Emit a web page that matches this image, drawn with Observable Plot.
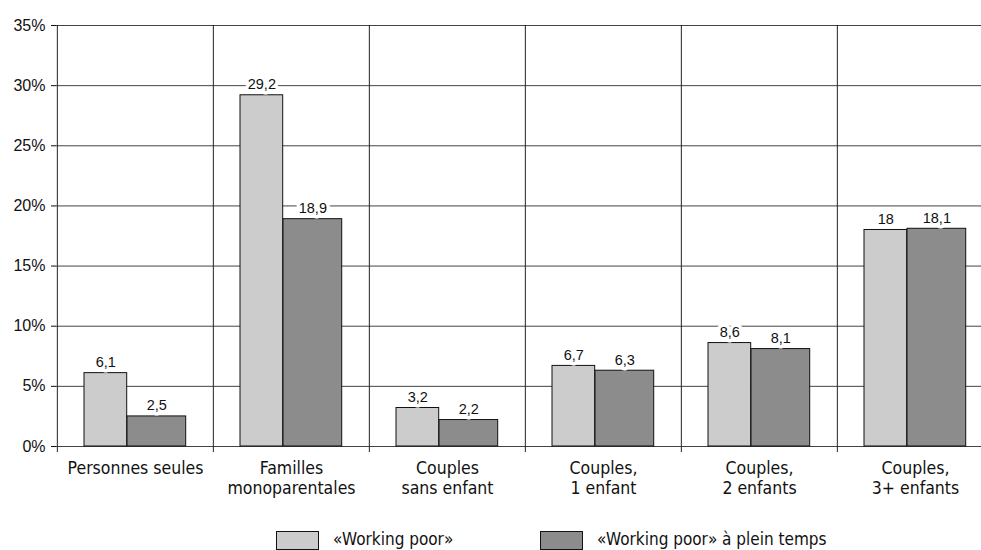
<!DOCTYPE html>
<html><head><meta charset="utf-8">
<script src="https://cdn.jsdelivr.net/npm/d3@7"></script>
<script src="https://cdn.jsdelivr.net/npm/@observablehq/plot@0.6"></script>
<style>
body{margin:0;background:#fff;overflow:hidden;width:981px;height:550px}
#legend{position:relative;height:27px;font-family:'DejaVu Sans Condensed','DejaVu Sans',sans-serif;font-size:17px;color:#111}
.sw{position:absolute;top:10px;width:41px;height:17px;border:1px solid #111}
.lt{position:absolute;top:8px;white-space:nowrap;line-height:20px}
</style></head><body><div id="chart"></div>
<script>
const categories = ["Personnes seules", "Familles\nmonoparentales", "Couples\nsans enfant", "Couples,\n1 enfant", "Couples,\n2 enfants", "Couples,\n3+ enfants"];
const workingPoor = [6.1, 29.2, 3.2, 6.7, 8.6, 18];
const workingPoorFullTime = [2.5, 18.9, 2.2, 6.3, 8.1, 18.1];
const yTicks = [0, 5, 10, 15, 20, 25, 30, 35];
const seriesNames = ["«Working poor»", "«Working poor» à plein temps"];
const seriesColors = ["#cccccc", "#8c8c8c"];

const table = categories.map((category, i) => ({category, wp: workingPoor[i], wpft: workingPoorFullTime[i]}));
const chartW = 981, chartH = 521, mLeft = 56, mTop = 25, yZero = 446;
const step = 156.3;
const fmt = v => String(v).replace(".", ",");

const chart = Plot.plot({
  width: chartW, height: chartH, marginLeft: mLeft, marginTop: mTop, marginRight: 0, marginBottom: chartH - yZero,
  x: {domain: categories, range: [mLeft, mLeft + step * categories.length], padding: 0},
  y: {domain: [0, 35], range: [yZero, mTop]},
  style: {fontFamily: "'Liberation Sans', Arial, sans-serif", background: "#fff", color: "#111"},
  marks: [
    Plot.ruleY(yTicks, {stroke: "#444", strokeWidth: 1}),
    Plot.ruleX(categories, {x: d => d, dx: -step / 2, stroke: "#222", insetBottom: -6}),
    Plot.barY(table, {x: "category", y: "wp", fill: seriesColors[0], stroke: "#111", insetLeft: 27, insetRight: step - 70}),
    Plot.barY(table, {x: "category", y: "wpft", fill: seriesColors[1], stroke: "#111", insetLeft: 70, insetRight: step - 129}),
    Plot.text(table, {x: "category", y: "wp", text: d => fmt(d.wp), dx: 48.5 - step / 2, dy: -6, lineAnchor: "bottom", fontSize: 14.5, fill: "#111", stroke: "white", strokeWidth: 7}),
    Plot.text(table, {x: "category", y: "wpft", text: d => fmt(d.wpft), dx: 99.5 - step / 2, dy: -6, lineAnchor: "bottom", fontSize: 14.5, fill: "#111", stroke: "white", strokeWidth: 7}),
    Plot.axisY({ticks: yTicks, tickSize: 5, tickPadding: 6, tickFormat: d => d + "%", fontSize: 16, label: null}),
    Plot.axisX({tickSize: 0, tickPadding: 13, fontSize: 17.5, fontFamily: "'DejaVu Sans Condensed', 'DejaVu Sans', sans-serif", lineHeight: 1.15, label: null})
  ]
});
document.getElementById("chart").append(chart);

const legend = document.createElement("div");
legend.id = "legend";
const swX = [276, 540];
seriesNames.forEach((name, i) => {
  const sw = document.createElement("div");
  sw.className = "sw"; sw.style.left = swX[i] + "px"; sw.style.background = seriesColors[i];
  const t = document.createElement("div");
  t.className = "lt"; t.style.left = (swX[i] + 57) + "px"; t.textContent = name;
  legend.append(sw, t);
});
document.body.append(legend);
</script></body></html>
